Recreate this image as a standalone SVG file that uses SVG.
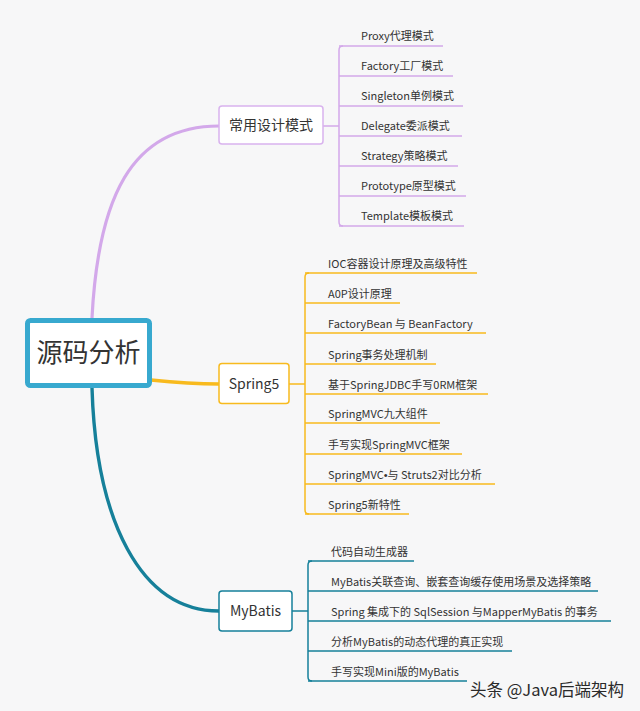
<svg xmlns="http://www.w3.org/2000/svg" width="640" height="711" viewBox="0 0 640 711">
<style>
  .bg{fill:#F7F7F8}
  text{font-family:"Noto Sans CJK SC","Noto Sans","Liberation Sans",sans-serif;fill:#333}
  .leaf{font-size:11px}
  .mid{font-size:14px;text-anchor:middle}
  .root{font-size:26px;text-anchor:middle}
  .box{fill:#fff;stroke-width:1.5}
  .p{stroke:#D3A8EA;fill:none}
  .o{stroke:#F8BA1E;fill:none}
  .t{stroke:#16809A;fill:none}
  .u{stroke-width:1.5}
</style>
<rect class="bg" x="0" y="0" width="640" height="711"/>

<g id="connectors">
  <path class="p" stroke-width="3.2" d="M92,318 C98,200 130,126 219,126"/>
  <path class="o" stroke-width="3.6" d="M151,380 C180,383 195,384 219,384"/>
  <path class="t" stroke-width="3.4" d="M92,388 C96,520 140,611 219,611"/>
  <g class="p u">
    <path d="M323,126 H339"/>
    <path d="M343,46 Q339,46 339,50 V222 Q339,226 343,226"/>
    <path d="M339,46 H443"/>
    <path d="M339,76 H453"/>
    <path d="M339,106 H463"/>
    <path d="M339,136 H462"/>
    <path d="M339,166 H458"/>
    <path d="M339,196 H466"/>
    <path d="M339,226 H464"/>
  </g>
  <g class="o u">
    <path d="M289,384 H305"/>
    <path d="M309,273 Q305,273 305,277 V510 Q305,514 309,514"/>
    <path d="M305,273 H477"/>
    <path d="M305,303 H400"/>
    <path d="M305,333 H486"/>
    <path d="M305,364 H436"/>
    <path d="M305,394 H488"/>
    <path d="M305,423 H440"/>
    <path d="M305,454 H462"/>
    <path d="M305,484 H495"/>
    <path d="M305,514 H409"/>
  </g>
  <g class="t u">
    <path d="M292,611 H308"/>
    <path d="M312,561 Q308,561 308,565 V677 Q308,681 312,681"/>
    <path d="M308,561 H414"/>
    <path d="M308,591 H598"/>
    <path d="M308,621 H611"/>
    <path d="M308,651 H512"/>
    <path d="M308,681 H467"/>
  </g>
</g>

<g id="root">
  <rect x="27.5" y="320.5" width="122" height="65" rx="3" fill="#fff" stroke="#38A9CF" stroke-width="5"/>
  <text class="root" x="88.5" y="362">源码分析</text>
</g>

<g id="design">
  <rect class="box" x="219" y="106" width="104" height="38" rx="3" stroke="#D9B3EE"/>
  <text class="mid" x="271" y="130">常用设计模式</text>
</g>
<g id="design-items">
  <text class="leaf" x="361" y="40">Proxy代理模式</text>
  <text class="leaf" x="361" y="70">Factory工厂模式</text>
  <text class="leaf" x="361" y="100">Singleton单例模式</text>
  <text class="leaf" x="361" y="130">Delegate委派模式</text>
  <text class="leaf" x="361" y="160">Strategy策略模式</text>
  <text class="leaf" x="361" y="190">Prototype原型模式</text>
  <text class="leaf" x="361" y="220">Template模板模式</text>
</g>

<g id="spring">
  <rect class="box" x="219" y="363.5" width="70" height="40" rx="3" stroke="#F8BA1E"/>
  <text class="mid" x="254" y="388.5">Spring5</text>
</g>
<g id="spring-items">
  <text class="leaf" x="328" y="268">IOC容器设计原理及高级特性</text>
  <text class="leaf" x="328" y="298">A0P设计原理</text>
  <text class="leaf" x="328" y="328">FactoryBean 与 BeanFactory</text>
  <text class="leaf" x="328" y="359">Spring事务处理机制</text>
  <text class="leaf" x="328" y="389">基于SpringJDBC手写0RM框架</text>
  <text class="leaf" x="328" y="418">SpringMVC九大组件</text>
  <text class="leaf" x="328" y="449">手写实现SpringMVC框架</text>
  <text class="leaf" x="328" y="479">SpringMVC<tspan style="font-family:'Liberation Sans',sans-serif">•</tspan>与 Struts2对比分析</text>
  <text class="leaf" x="328" y="509">Spring5新特性</text>
</g>

<g id="mybatis">
  <rect class="box" x="219" y="591" width="73" height="40" rx="3" stroke="#16809A"/>
  <text class="mid" x="255.5" y="616">MyBatis</text>
</g>
<g id="mybatis-items">
  <text class="leaf" x="331" y="556">代码自动生成器</text>
  <text class="leaf" x="331" y="586">MyBatis关联查询、嵌套查询缓存使用场景及选择策略</text>
  <text class="leaf" x="331" y="616">Spring 集成下的 SqlSession 与MapperMyBatis 的事务</text>
  <text class="leaf" x="331" y="646">分析MyBatis的动态代理的真正实现</text>
  <text class="leaf" x="331" y="676">手写实现Mini版的MyBatis</text>
</g>

<text x="470" y="696" style="font-size:16.5px;fill:#2a2a2a">头条 @Java后端架构</text>
</svg>
